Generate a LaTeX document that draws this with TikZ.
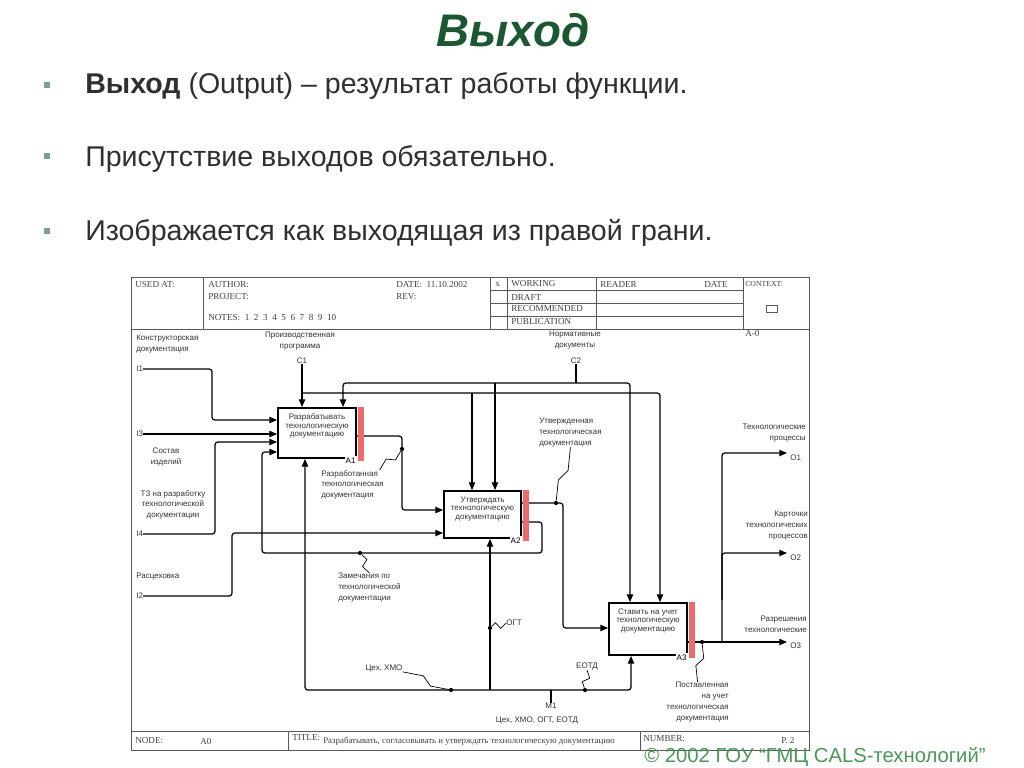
\documentclass[tikz,border=0pt]{standalone}
\usepackage{fontspec}
\setmainfont{Liberation Serif}
\setsansfont{Liberation Sans}
\usetikzlibrary{arrows.meta,positioning,calc}

\definecolor{headgreen}{HTML}{1B5730}
\definecolor{markgreen}{HTML}{7DA287}
\definecolor{copygreen}{HTML}{4A975A}
\definecolor{barred}{HTML}{F06A6A}
\definecolor{bodygray}{HTML}{2F2F2F}

\newcommand{\idef}{\sffamily\fontsize{5.7}{7.7}\selectfont}
\newcommand{\idefbox}{\sffamily\fontsize{5.7}{6.1}\selectfont}
\newcommand{\formtxt}{\rmfamily\fontsize{6.5}{7.5}\selectfont}
\newcommand{\squig}[2]{\draw[tilde] (#1) -- ($(#1)!0.4!(#2)!2.5pt!90:(#2)$) -- ($(#1)!0.6!(#2)!2.5pt!-90:(#2)$) -- (#2);}

\tikzset{
  func/.style={draw, line width=1.3pt, inner sep=0pt, minimum width=19.5mm},
  boxtxt/.style={anchor=north, align=center, font=\idefbox, text=black!80, inner sep=0pt, yshift=-4.5pt},
  boxnum/.style={anchor=north east, fill=white, font=\idef, inner sep=0.8pt, yshift=2pt},
  arc/.style={line width=0.9pt, rounded corners=2pt},
  flow/.style={arc, -{Triangle[length=5.5pt,width=4.5pt]}},
  lbl/.style={font=\idef, text=black!80, inner sep=0pt},
  dot/.style={circle, fill=black, inner sep=0pt, minimum size=3pt},
  tilde/.style={line width=0.5pt},
  form/.style={draw=black!65, line width=0.6pt},
  formlbl/.style={font=\formtxt, text=black!75, inner sep=0pt, anchor=west},
  marker/.style={fill=markgreen, inner sep=0pt, minimum size=1.6mm},
  point/.style={font=\sffamily\fontsize{20.3}{24}\selectfont, text=bodygray, anchor=base west, inner sep=0pt}
}

\begin{document}
\begin{tikzpicture}[x=0.25mm, y=-0.25mm]
\useasboundingbox (0,0) rectangle (1024,767);

% heading and points
\node[font=\sffamily\bfseries\itshape\fontsize{32.5}{38}\selectfont, text=headgreen] (heading) at (513,30) {Выход};
\node[marker] (mk1) at (47,85) {};
\node[point] (pt1) at (85,94) {\textbf{Выход} (Output) – результат работы функции.};
\node[marker] (mk2) at (47,156) {};
\node[point] (pt2) at (85,166) {Присутствие выходов обязательно.};
\node[marker] (mk3) at (47,231) {};
\node[point] (pt3) at (85,240) {Изображается как выходящая из правой грани.};

% form
\draw[form] (131,277) rectangle (809,750);
\draw[form] (131,329) -- (809,329);
\draw[form] (203,277) -- (203,329);
\draw[form] (490,277) -- (490,329);
\draw[form] (507,277) -- (507,329);
\draw[form] (596,277) -- (596,329);
\draw[form] (743,277) -- (743,329);
\draw[form] (490,290) -- (743,290);
\draw[form] (490,303) -- (743,303);
\draw[form] (490,316) -- (743,316);
\draw[form] (766,305) rectangle (777,312);
\draw[form] (131,731) -- (809,731);
\draw[form] (288,731) -- (288,750);
\draw[form] (640,731) -- (640,750);

\node[formlbl] (usedat) at (135,285) {USED AT:};
\node[formlbl] (author) at (208,285) {AUTHOR:};
\node[formlbl] (project) at (208,297) {PROJECT:};
\node[formlbl] (notes) at (208,318) {NOTES:\ \ 1\ \ 2\ \ 3\ \ 4\ \ 5\ \ 6\ \ 7\ \ 8\ \ 9\ \ 10};
\node[formlbl] (date) at (396,285) {DATE:\ \ 11.10.2002};
\node[formlbl] (rev) at (396,297) {REV:};
\node[formlbl] (xmark) at (495,284) {x};
\node[formlbl] (working) at (511,284) {WORKING};
\node[formlbl] (draft) at (511,297) {DRAFT};
\node[formlbl] (recommended) at (511,309) {RECOMMENDED};
\node[formlbl] (publication) at (511,322) {PUBLICATION};
\node[formlbl] (reader) at (600,284) {READER};
\node[formlbl] (rdate) at (704,284) {DATE};
\node[formlbl, font=\rmfamily\fontsize{5.5}{6}\selectfont] (context) at (745,284) {CONTEXT:};
\node[formlbl] (aminus) at (745,334) {A-0};
\node[formlbl] (nodelbl) at (135,741) {NODE:};
\node[formlbl] (nodeid) at (200,741) {A0};
\node[formlbl] (titlelbl) at (292,738) {TITLE:};
\node[formlbl, font=\rmfamily\fontsize{6.3}{7}\selectfont] (titletxt) at (323,741) {Разрабатывать, согласовывать и утверждать технологическую документацию};
\node[formlbl] (numlbl) at (643,739) {NUMBER:};
\node[formlbl] (page) at (781,741) {P. 2};

% function boxes
\node[func, minimum height=12.5mm, label={[boxtxt]north:{Разрабатывать\\технологическую\\документацию}}, label={[boxnum]south east:A1}] (A1) at (317,433) {};
\node[func, minimum height=11.75mm, minimum width=19.25mm, label={[boxtxt]north:{Утверждать\\технологическую\\документацию}}, label={[boxnum]south east:A2}] (A2) at (482.5,514.5) {};
\node[func, minimum height=13mm, label={[boxtxt]north:{Ставить на учет\\технологическую\\документацию}}, label={[boxnum]south east:A3}] (A3) at (648,629) {};

% inputs
\node[lbl, anchor=north west, align=left] (cdoc) at (136,335) {Конструкторская\\документация};
\node[lbl, anchor=west] (I1) at (136,369) {I1};
\draw[flow] (I1.east) -| (212,420) -- (A1.west|-0,420);
\node[lbl, anchor=west] (I3) at (136,434) {I3};
\draw[flow] (I3.east) -- (A1.west|-I3.east);
\node[lbl, align=center] (parts) at (166,457) {Состав\\изделий};
\node[lbl, anchor=north, align=center] (spec) at (173,490) {ТЗ на разработку\\технологической\\документации};
\node[lbl, anchor=west] (I4) at (136,534) {I4};
\draw[flow] (I4.east) -| (215,442) -- (A1.west|-0,442);
\node[lbl, anchor=west] (split) at (136,577) {Расцеховка};
\node[lbl, anchor=west] (I2) at (136,596) {I2};
\draw[flow] (I2.east) -| (232,533) -- (A2.west|-0,533);

% controls
\node[lbl, anchor=north, align=center] (prog) at (300,332) {Производственная\\программа};
\node[lbl] (C1) at (302,361) {C1};
\coordinate (k1) at (302,393);
\draw[flow] (C1.south) -- (C1.south|-A1.north);
\draw[flow] (k1) -| (A3.north-|660,0);
\draw[flow] (472,393) -- (A2.north-|472,0);
\node[lbl, anchor=north, align=center] (norms) at (575,331) {Нормативные\\документы};
\node[lbl] (C2) at (576,361) {C2};
\coordinate (k2) at (576,383);
\draw[arc] (C2.south) -- (k2);
\draw[flow] (k2) -| (A1.north-|343,0);
\draw[flow] (k2) -| (A3.north-|630,0);
\draw[flow] (495,383) -- (A2.north-|495,0);

% mechanisms
\node[lbl] (M1) at (551,706) {M1};
\node[lbl] (mechs) at (537,720) {Цех, ХМО, ОГТ, ЕОТД};
\coordinate (k3) at (551,690);
\draw[arc] (M1.north) -- (k3);
\draw[flow] (k3) -| (A1.south-|305,0);
\draw[flow] (k3) -| (A3.south-|631,0);
\draw[flow] (490,690) -- (A2.south-|490,0);

% flows between boxes
\draw[flow] (A1.east|-0,436) -| (402,510) -- (A2.west|-0,510);
\draw[flow] (A2.east|-0,522) -| (542,553) -| (262,452) -- (A1.west|-0,452);
\draw[flow] (A2.east|-0,503) -| (563,628) -- (A3.west|-0,628);

% outputs
\coordinate (out1) at (787,453);
\coordinate (out2) at (787,553);
\coordinate (out3) at (787,642);
\draw[flow] (A3.east|-0,642) -- (out3);
\draw[flow] (722,642) |- (out1);
\draw[flow] (722,600) |- (out2);
\node[lbl, anchor=west] (O1) at (790,458) {O1};
\node[lbl, anchor=west] (O2) at (790,558) {O2};
\node[lbl, anchor=west] (O3) at (790,646) {O3};
\node[lbl, anchor=north east, align=right] (procs) at (806,424) {Технологические\\процессы};
\node[lbl, anchor=north east, align=right] (cards) at (808,511) {Карточки\\технологических\\процессов};
\node[lbl, anchor=north east, align=right] (perms) at (807,616) {Разрешения\\технологические};

% arrow labels
\node[dot] (d1) at (402,449) {};
\node[dot] (d2) at (360,553) {};
\node[dot] (d3) at (556,503) {};
\node[dot] (d4) at (490,628) {};
\node[dot] (d5) at (451,690) {};
\node[dot] (d6) at (585,690) {};
\node[dot] (d7) at (702,642) {};
\node[lbl, anchor=north west, align=left] (rdoc) at (321,470) {Разработанная\\технологическая\\документация};
\node[lbl, anchor=north west, align=left] (remarks) at (338,573) {Замечания по\\технологической\\документации};
\node[lbl, anchor=north west, align=left] (approved) at (539,418) {Утвержденная\\технологическая\\документация};
\node[lbl, anchor=west] (ogt) at (506,623) {ОГТ};
\node[lbl] (shop) at (384,668) {Цех, ХМО};
\node[lbl] (eotd) at (587,666) {ЕОТД};
\node[lbl, anchor=north east, align=right] (placed) at (729,682) {Поставленная\\на учет\\технологическая\\документация};
\squig{d1}{[xshift=-3pt]rdoc.north east}
\squig{d2}{remarks.north}
\squig{d3}{approved.south}
\squig{d4}{ogt.west}
\squig{d5}{shop.south east}
\squig{d6}{eotd.south}
\squig{d7}{placed.north}

% red bars
\fill[barred] ([xshift=0.6pt]A1.north east) rectangle ([xshift=5pt,yshift=-1.5pt]A1.south east);
\fill[barred] ([xshift=0.6pt]A2.north east) rectangle ([xshift=5pt,yshift=-1.5pt]A2.south east);
\fill[barred] ([xshift=0.6pt]A3.north east) rectangle ([xshift=5pt,yshift=-1.5pt]A3.south east);

% footer
\node[font=\sffamily\fontsize{14.4}{16}\selectfont, text=copygreen] (copy) at (815,757) {© 2002 ГОУ “ГМЦ CALS-технологий”};
\end{tikzpicture}
\end{document}
